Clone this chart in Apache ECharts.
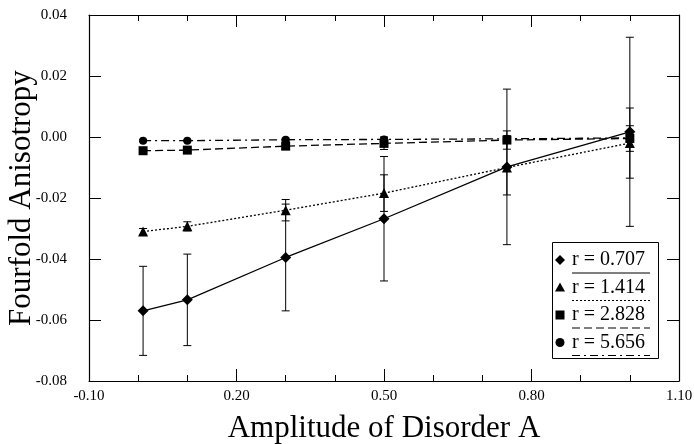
<!DOCTYPE html>
<html>
  <head>
    <title></title>
    <meta charset="UTF-8" />
    <script src="https://cdn.jsdelivr.net/npm/echarts@6/dist/echarts.min.js"></script>
    <style>
      html, body { margin: 0; padding: 0; background: #fff; }
    </style>
  </head>
  <body>
    <div id="main"></div>
    <script>
      const width = 694;
      const height = 444;
      const main = document.getElementById('main');
      main.style.width = `${width}px`;
      main.style.height = `${height}px`;

      // amplitudes A
      const amp = [0.01, 0.1, 0.3, 0.5, 0.75, 1.0];

      // r = 0.707 (diamond, solid)
      const r0707 = [-0.0570, -0.0534, -0.0395, -0.0268, -0.0098, 0.0017];
      const r0707Err = [0.0146, 0.0150, 0.0175, 0.0204, 0.0255, 0.0310];
      // r = 1.414 (triangle, dotted)
      const r1414 = [-0.0310, -0.0293, -0.0240, -0.0184, -0.0100, -0.0020];
      const r1414Err = [0.0010, 0.0015, 0.0035, 0.0060, 0.0090, 0.0115];
      // r = 2.828 (square, dashed)
      const r2828 = [-0.0045, -0.0043, -0.0030, -0.0021, -0.0010, -0.0005];
      const r2828Err = [0.0004, 0.0005, 0.0010, 0.0020, 0.0030, 0.0042];
      // r = 5.656 (circle, dash-dot)
      const r5656 = [-0.0012, -0.0012, -0.0009, -0.0008, -0.0006, -0.0003];
      const r5656Err = [0.0003, 0.0003, 0.0005, 0.0008, 0.0010, 0.0012];

      const legendNames = ['r = 0.707', 'r = 1.414', 'r = 2.828', 'r = 5.656'];

      const font = 'Liberation Serif';
      const ink = '#000';

      const pairs = ys => amp.map((x, i) => [x, ys[i]]);
      const errData = (ys, es) => amp.map((x, i) => [x, ys[i] - es[i], ys[i] + es[i]]);

      function errorBars(data) {
        return {
          type: 'custom',
          data: data,
          z: 1,
          silent: true,
          encode: { x: 0, y: [1, 2] },
          renderItem: (params, api) => {
            const lo = api.coord([api.value(0), api.value(1)]);
            const hi = api.coord([api.value(0), api.value(2)]);
            const w = 4;
            const style = { stroke: ink, lineWidth: 1 };
            return {
              type: 'group',
              children: [
                { type: 'line', shape: { x1: lo[0], y1: lo[1], x2: hi[0], y2: hi[1] }, style },
                { type: 'line', shape: { x1: lo[0] - w, y1: lo[1], x2: lo[0] + w, y2: lo[1] }, style },
                { type: 'line', shape: { x1: hi[0] - w, y1: hi[1], x2: hi[0] + w, y2: hi[1] }, style }
              ]
            };
          }
        };
      }

      function lineSeries(name, ys, symbol, size, dash) {
        return {
          name: name,
          type: 'line',
          data: pairs(ys),
          symbol: symbol,
          symbolSize: size,
          z: 3,
          itemStyle: { color: ink },
          lineStyle: { color: ink, width: 1.3, type: dash }
        };
      }

      const xTickFmt = v => v.toFixed(2);
      const yTickFmt = v => v.toFixed(2);

      const commonX = {
        type: 'value',
        min: -0.1,
        max: 1.1,
        interval: 0.3,
        axisLine: { onZero: false, lineStyle: { color: ink, width: 1.2 } },
        axisTick: { inside: true, length: 12, lineStyle: { color: ink } },
        minorTick: { show: true, splitNumber: 3, length: 6, lineStyle: { color: ink } },
        splitLine: { show: false }
      };
      const commonY = {
        type: 'value',
        min: -0.08,
        max: 0.04,
        interval: 0.02,
        axisLine: { onZero: false, lineStyle: { color: ink, width: 1.2 } },
        axisTick: { inside: true, length: 12, lineStyle: { color: ink } },
        splitLine: { show: false }
      };

      // legend drawn by hand: symbol, label, line sample underneath
      const lgX = 552, lgY = 242, lgW = 106, lgH = 116, rowH = 27.5;
      const lgSymbols = [
        { type: 'polygon', shape: { points: [[0, -5], [5, 0], [0, 5], [-5, 0]] } },
        { type: 'polygon', shape: { points: [[0, -5], [5, 4], [-5, 4]] } },
        { type: 'rect', shape: { x: -4.5, y: -4.5, width: 9, height: 9 } },
        { type: 'circle', shape: { cx: 0, cy: 0, r: 4.5 } }
      ];
      const lgDash = [null, [2, 2], [8, 4], [8, 4, 2, 4]];
      const legendGraphics = [
        { type: 'rect', left: lgX, top: lgY, shape: { width: lgW, height: lgH }, style: { fill: '#fff', stroke: ink, lineWidth: 1 }, z: 10 }
      ];
      legendNames.forEach((name, i) => {
        const cy = lgY + 18 + i * rowH;
        const sym = lgSymbols[i];
        legendGraphics.push(Object.assign({}, sym, { x: lgX + 8, y: cy, style: { fill: ink }, z: 11 }));
        legendGraphics.push({
          type: 'text', x: lgX + 20, y: cy, z: 11,
          style: { text: name, font: `20px "${font}"`, fill: ink, verticalAlign: 'middle' }
        });
        legendGraphics.push({
          type: 'line', z: 11,
          shape: { x1: lgX + 20, y1: cy + 13, x2: lgX + 98, y2: cy + 13 },
          style: { stroke: ink, lineWidth: 1.2, lineDash: lgDash[i] }
        });
      });

      const myChart = echarts.init(main, null, { renderer: 'canvas' });
      const option = {
        backgroundColor: '#fff',
        animation: false,
        grid: { left: 89, right: 15, top: 15, bottom: 63, containLabel: false, outerBoundsMode: 'none' },
        xAxis: [
          Object.assign({}, commonX, {
            position: 'bottom',
            name: 'Amplitude of Disorder A',
            nameLocation: 'middle',
            nameMoveOverlap: false,
            nameGap: 32,
            nameTextStyle: { fontFamily: font, fontSize: 31, color: ink },
            axisLabel: { formatter: xTickFmt, fontFamily: font, fontSize: 15, color: ink, margin: 8 }
          }),
          Object.assign({}, commonX, {
            position: 'top',
            axisLabel: { show: false }
          })
        ],
        yAxis: [
          Object.assign({}, commonY, {
            position: 'left',
            name: 'Fourfold Anisotropy',
            nameLocation: 'middle',
            nameMoveOverlap: false,
            nameGap: 52,
            nameTextStyle: { fontFamily: font, fontSize: 31, color: ink },
            axisLabel: { formatter: yTickFmt, fontFamily: font, fontSize: 15, color: ink, margin: 22 }
          }),
          Object.assign({}, commonY, {
            position: 'right',
            axisLabel: { show: false }
          })
        ],
        series: [
          errorBars(errData(r0707, r0707Err)),
          errorBars(errData(r1414, r1414Err)),
          errorBars(errData(r2828, r2828Err)),
          errorBars(errData(r5656, r5656Err)),
          lineSeries(legendNames[0], r0707, 'diamond', 11, 'solid'),
          lineSeries(legendNames[1], r1414, 'triangle', 10, [2, 2]),
          lineSeries(legendNames[2], r2828, 'rect', 9, [8, 4]),
          lineSeries(legendNames[3], r5656, 'circle', 8, [8, 4, 2, 4])
        ],
        graphic: legendGraphics
      };
      myChart.setOption(option);
    </script>
  </body>
</html>
